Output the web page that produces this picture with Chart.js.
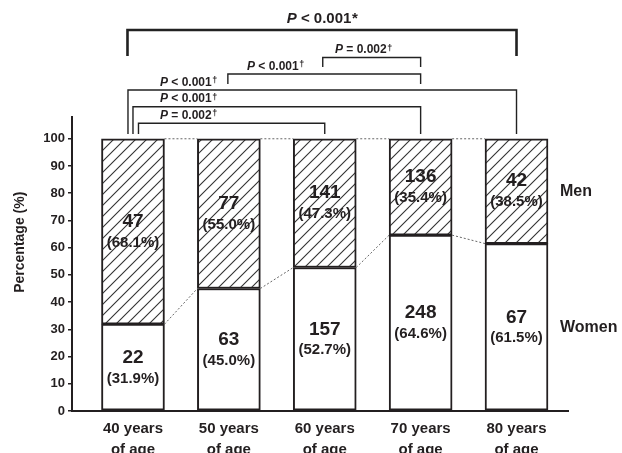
<!DOCTYPE html>
<html>
<head>
<meta charset="utf-8">
<script src="https://cdn.jsdelivr.net/npm/chart.js@4/dist/chart.umd.min.js"></script>
<style>
  html, body { margin: 0; padding: 0; background: #fff; }
  #wrap { width: 622px; height: 453px; }
</style>
</head>
<body>
<div id="wrap"><canvas id="chart" width="622" height="453"></canvas></div>
<script>
// Age groups (two-line axis labels)
const ageGroups = [
  ['40 years', 'of age'],
  ['50 years', 'of age'],
  ['60 years', 'of age'],
  ['70 years', 'of age'],
  ['80 years', 'of age']
];
// Counts and shares per age group
const womenCounts = [22, 63, 157, 248, 67];
const menCounts = [47, 77, 141, 136, 42];
const womenPct = [31.9, 45.0, 52.7, 64.6, 61.5];
const menPct = [68.1, 55.0, 47.3, 35.4, 38.5];
const yTicks = [0, 10, 20, 30, 40, 50, 60, 70, 80, 90, 100];

// Pairwise comparisons: [group a, group b], operator, value, footnote mark
const pairs = [[0, 4], [2, 3], [1, 3], [0, 4], [0, 3], [0, 2]];
const pOps = ['<', '=', '<', '<', '<', '='];
const pValues = ['0.001', '0.002', '0.001', '0.001', '0.001', '0.002'];
const pMarks = ['*', '\u2020', '\u2020', '\u2020', '\u2020', '\u2020'];

const FONT = '"Liberation Sans", Arial, Helvetica, sans-serif';
const INK = '#231f20';
Chart.defaults.font.family = FONT;
Chart.defaults.color = INK;

const BAR_W = 63;

// Diagonal hatching for the men segments
function makeHatch() {
  const p = 11;
  const c = document.createElement('canvas');
  c.width = p; c.height = p;
  const g = c.getContext('2d');
  g.fillStyle = '#fff';
  g.fillRect(0, 0, p, p);
  g.strokeStyle = '#333';
  g.lineWidth = 1.1;
  g.beginPath();
  g.moveTo(0, p); g.lineTo(p, 0);
  g.moveTo(-2, 2); g.lineTo(2, -2);
  g.moveTo(p - 2, p + 2); g.lineTo(p + 2, p - 2);
  g.stroke();
  return g.createPattern(c, 'repeat');
}

// Layout of the comparison brackets (pixel rows above the plot)
const bracketLayout = [
  { y: 30,    bottom: 56,  dl: -5.5, dr: 0, lw: 2.6, size: 15, labelX: null, labelY: 19 },
  { y: 57.5,  bottom: 67,  dl: -2,   dr: 0, lw: 1.4, size: 12, labelX: 335, labelY: 50 },
  { y: 74,    bottom: 84,  dl: -1,   dr: 0, lw: 1.4, size: 12, labelX: 247, labelY: 66.5 },
  { y: 90,    bottom: 134, dl: -5,   dr: 0, lw: 1.4, size: 12, labelX: 160, labelY: 82.5 },
  { y: 106.7, bottom: 134, dl: 0,    dr: 0, lw: 1.4, size: 12, labelX: 160, labelY: 99 },
  { y: 123.3, bottom: 134, dl: 5.5,  dr: 0, lw: 1.4, size: 12, labelX: 160, labelY: 115.5 }
];

function drawPLabel(ctx, i, L, x) {
  const size = L.size;
  const markSize = pMarks[i] === '*' ? size : Math.round(size * 0.75);
  const partP = 'P';
  const partMid = ' ' + pOps[i] + ' ' + pValues[i];
  ctx.font = 'italic bold ' + size + 'px ' + FONT;
  const wP = ctx.measureText(partP).width;
  ctx.font = 'bold ' + size + 'px ' + FONT;
  const wMid = ctx.measureText(partMid).width;
  ctx.font = 'bold ' + markSize + 'px ' + FONT;
  const wMark = ctx.measureText(pMarks[i]).width;
  let sx = x;
  if (L.labelX === null) sx = x - (wP + wMid + wMark) / 2;
  ctx.textBaseline = 'middle';
  ctx.textAlign = 'left';
  ctx.fillStyle = INK;
  ctx.font = 'italic bold ' + size + 'px ' + FONT;
  ctx.fillText(partP, sx, L.labelY);
  ctx.font = 'bold ' + size + 'px ' + FONT;
  ctx.fillText(partMid, sx + wP, L.labelY);
  ctx.font = 'bold ' + markSize + 'px ' + FONT;
  const raise = pMarks[i] === '*' ? 0 : -1.5;
  ctx.fillText(pMarks[i], sx + wP + wMid + 0.5, L.labelY + raise);
}

const annotations = {
  id: 'annotations',
  afterDatasetsDraw(chart) {
    const { ctx, scales: { x, y } } = chart;
    const half = BAR_W / 2;
    ctx.save();

    // dotted connectors between neighbouring bars
    ctx.strokeStyle = '#666';
    ctx.lineWidth = 1;
    ctx.setLineDash([2, 2]);
    for (let i = 0; i < womenPct.length - 1; i++) {
      const x0 = x.getPixelForValue(i) + half;
      const x1 = x.getPixelForValue(i + 1) - half;
      ctx.beginPath();
      ctx.moveTo(x0, y.getPixelForValue(womenPct[i]));
      ctx.lineTo(x1, y.getPixelForValue(womenPct[i + 1]));
      ctx.moveTo(x0, y.getPixelForValue(100));
      ctx.lineTo(x1, y.getPixelForValue(100));
      ctx.stroke();
    }
    ctx.setLineDash([]);

    // counts and percentages inside each segment
    ctx.fillStyle = INK;
    ctx.textAlign = 'center';
    ctx.textBaseline = 'middle';
    for (let i = 0; i < womenPct.length; i++) {
      const cx = x.getPixelForValue(i);
      const wTop = y.getPixelForValue(womenPct[i]);
      const wMid = (y.getPixelForValue(0) + wTop) / 2;
      const mMid = (y.getPixelForValue(womenPct[i] + menPct[i]) + wTop) / 2;
      [[womenCounts[i], womenPct[i], wMid], [menCounts[i], menPct[i], mMid]].forEach(([n, p, m]) => {
        ctx.font = 'bold 19px ' + FONT;
        ctx.fillText(String(n), cx, m - 10);
        ctx.font = 'bold 15px ' + FONT;
        ctx.fillText('(' + p.toFixed(1) + '%)', cx, m + 11);
      });
    }

    // series names beside the last bar
    const last = womenPct.length - 1;
    const lx = x.getPixelForValue(last) + half + 12;
    const lwTop = y.getPixelForValue(womenPct[last]);
    ctx.textAlign = 'left';
    ctx.font = 'bold 16px ' + FONT;
    ctx.fillText('Men', lx, (y.getPixelForValue(100) + lwTop) / 2);
    ctx.fillText('Women', lx, (y.getPixelForValue(0) + lwTop) / 2);

    // vertical axis title
    ctx.save();
    ctx.translate(20, y.getPixelForValue(62));
    ctx.rotate(-Math.PI / 2);
    ctx.textAlign = 'center';
    ctx.font = 'bold 14px ' + FONT;
    ctx.fillText('Percentage (%)', 0, 0);
    ctx.restore();

    // comparison brackets
    ctx.strokeStyle = '#222';
    pairs.forEach(([a, b], i) => {
      const L = bracketLayout[i];
      const xa = x.getPixelForValue(a) + L.dl;
      const xb = x.getPixelForValue(b) + L.dr;
      ctx.lineWidth = L.lw;
      ctx.beginPath();
      ctx.moveTo(xa, L.bottom);
      ctx.lineTo(xa, L.y);
      ctx.lineTo(xb, L.y);
      ctx.lineTo(xb, L.bottom);
      ctx.stroke();
      drawPLabel(ctx, i, L, L.labelX === null ? (xa + xb) / 2 : L.labelX);
    });
    ctx.restore();
  }
};

const hatch = makeHatch();
const toPoints = arr => arr.map((v, i) => ({ x: i, y: v }));

new Chart(document.getElementById('chart'), {
  type: 'bar',
  data: {
    datasets: [
      {
        label: 'Women',
        data: toPoints(womenPct),
        backgroundColor: '#ffffff',
        borderColor: INK,
        borderWidth: 2,
        borderSkipped: false,
        barThickness: BAR_W
      },
      {
        label: 'Men',
        data: toPoints(menPct),
        backgroundColor: hatch,
        borderColor: INK,
        borderWidth: 2,
        borderSkipped: false,
        barThickness: BAR_W
      }
    ]
  },
  options: {
    responsive: false,
    animation: false,
    devicePixelRatio: 1,
    layout: { padding: { top: 117, right: 54, bottom: 0, left: 0 } },
    plugins: { legend: { display: false }, tooltip: { enabled: false } },
    scales: {
      x: {
        type: 'linear',
        stacked: true,
        offset: false,
        min: -0.636,
        max: 4.537,
        afterBuildTicks: s => { s.ticks = ageGroups.map((_, i) => ({ value: i })); },
        afterFit: s => { s.height = 42; },
        grid: { display: false, drawTicks: false },
        border: { display: true, color: INK, width: 2 },
        ticks: {
          autoSkip: false,
          maxRotation: 0,
          padding: 8,
          color: INK,
          font: { size: 15, weight: 'bold', lineHeight: 1.35 },
          callback: v => ageGroups[v]
        }
      },
      y: {
        stacked: true,
        min: 0,
        max: 108,
        afterBuildTicks: s => { s.ticks = yTicks.map(v => ({ value: v })); },
        afterFit: s => { s.width = 72; },
        grid: { drawOnChartArea: false, drawTicks: true, tickLength: 4, color: INK, lineWidth: 1.5 },
        border: { display: true, color: INK, width: 2 },
        ticks: { padding: 3, color: INK, font: { size: 13, weight: 'bold' } }
      }
    }
  },
  plugins: [annotations]
});
</script>
</body>
</html>
